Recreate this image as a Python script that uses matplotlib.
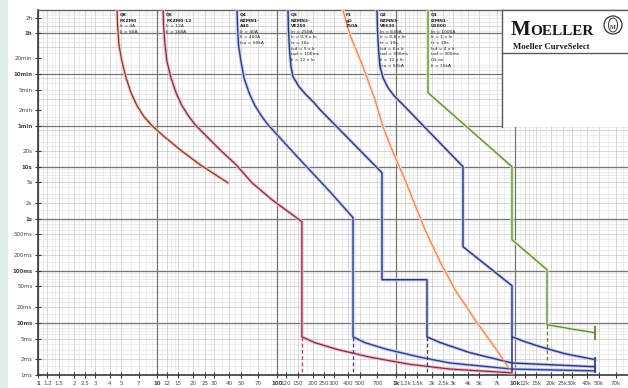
import matplotlib
matplotlib.use("Agg")
import matplotlib.pyplot as plt
import matplotlib.transforms as mtransforms
from matplotlib.lines import Line2D
from matplotlib.patches import Ellipse, Rectangle
from matplotlib.ticker import NullLocator

# axis ticks
X_TICKS = [1, 1.2, 1.5, 2, 2.5, 3, 4, 5, 7,
           10, 12, 15, 20, 25, 30, 40, 50, 70,
           100, 120, 150, 200, 250, 300, 400, 500, 700,
           1000, 1200, 1500, 2000, 2500, 3000, 4000, 5000, 7000,
           10000, 12000, 15000, 20000, 25000, 30000, 40000, 50000, 70000]
X_LABELS = ["1", "1.2", "1.5", "2", "2.5", "3", "4", "5", "7",
            "10", "12", "15", "20", "25", "30", "40", "50", "70",
            "100", "120", "150", "200", "250", "300", "400", "500", "700",
            "1k", "1.2k", "1.5k", "2k", "2.5k", "3k", "4k", "5k", "7k",
            "10k", "12k", "15k", "20k", "25k", "30k", "40k", "50k", "70k"]
Y_TICKS = [0.001, 0.002, 0.005, 0.01, 0.02, 0.05, 0.1, 0.2, 0.5, 1, 2, 5, 10, 20,
           60, 120, 300, 600, 1200, 3600, 7200]
Y_LABELS = ["1ms", "2ms", "5ms", "10ms", "20ms", "50ms", "100ms", "200ms", "500ms",
            "1s", "2s", "5s", "10s", "20s", "1min", "2min", "5min", "10min", "20min", "1h", "2h"]
BOLD_LABELS = {"1", "10", "100", "1k", "10k", "10ms", "100ms", "1s", "10s", "1min", "10min", "1h"}

# trip curves: current [A], time [s]
Q8_I = [4.6, 4.64, 4.77, 5.06, 5.47, 6.02, 6.76, 7.74, 9.03, 10.95, 15.5, 22.8, 39]
Q8_T = [10000, 5290, 2186, 1031, 508, 262, 147.5, 90.7, 61, 41, 21.1, 10.9, 4.9]

Q5_I = [11.2, 11.27, 11.6, 12.06, 13.02, 14.35, 16.1, 18.44, 21.1, 25.1, 33.5, 45.7, 62.2, 91.5, 163,
        163, 210, 321, 607, 1313, 2842, 9400]
Q5_T = [10000, 5290, 2186, 1031, 508, 262, 147.5, 90.7, 61, 41, 21.1, 10.9, 4.9, 2.31, 0.876,
        0.0054, 0.00417, 0.0031, 0.0022, 0.0016, 0.0013, 0.0011]

Q4_I = [46.6, 47.0, 47.9, 50.3, 53.3, 58.7, 65.9, 75.4, 84.7, 102.7, 157, 280, 437,
        437, 551, 842, 1592, 2842, 9400, 46670]
Q4_T = [10000, 5290, 2186, 1031, 508, 262, 147.5, 90.7, 63.7, 39.2, 13.6, 3.3, 1.05,
        0.0054, 0.00417, 0.0031, 0.0022, 0.0017, 0.0013, 0.0012]

Q3_I = [124.6, 125.8, 128.3, 132.0, 137.3, 154.1, 176.4, 205.8, 231, 764, 764, 1823, 1823,
        2343, 4178, 9400, 46670]
Q3_T = [10000, 4242, 1753, 827, 531, 342, 240, 168.4, 124, 7.64, 0.0675, 0.0675, 0.0054,
        0.0042, 0.00268, 0.0017, 0.00144]

F1_I = [360, 412, 530, 668, 780, 927, 1192, 1390, 1754, 2343, 3129, 4603, 6772, 9040]
F1_T = [10000, 3400, 827, 192, 58, 21, 5.6, 2.3, 0.615, 0.15, 0.0434, 0.0115, 0.00334, 0.00126]

Q2_I = [694, 701, 715, 736, 780, 859, 964, 1125, 3652, 3652, 9400, 9400, 12085, 16130, 26150, 46670]
Q2_T = [10000, 4242, 1753, 827, 508, 327, 229.5, 161, 9.96, 0.29, 0.0518, 0.0054, 0.00436, 0.0035,
        0.00256, 0.00197]

Q1_I = [1858, 1858, 9400, 9400, 18480, 18480, 28780, 46670]
Q1_T = [10000, 262, 9.96, 0.395, 0.105, 0.00923, 0.00774, 0.00648]

# instantaneous markers below the tails and end bars
DASH_I = [163, 437, 1823, 18480]
DASH_TOP = [0.0054, 0.0054, 0.0054, 0.00923]
DASH_BOT = [0.00116, 0.00116, 0.00116, 0.00197]
DASH_COL = ["#c04060", "#33408a", "#33408a", "#6f7f3a"]
SOLID_I = [9400]
SOLID_TOP = [0.0054]
SOLID_BOT = [0.00116]
END_I = 46670
END_TOP = [0.0089, 0.00225]
END_BOT = [0.0047, 0.00111]

CURVES = [
    ("Q8", Q8_I, Q8_T, "#7d3b36", "#f6c8b8", 0.9, ["Q8", "PKZM0"], ["Ir = 4A", "Ii = 56A"]),
    ("Q5", Q5_I, Q5_T, "#7c2f4a", "#f4b8c8", 0.9, ["Q5", "PKZM0-12"], ["Ir = 12A", "Ii = 168A"]),
    ("Q4", Q4_I, Q4_T, "#33408a", "#c4caf2", 1.0, ["Q4", "NZMN1-", "A40"],
     ["Ir = 40A", "Ii = 400A", "Icu = 50kA"]),
    ("Q3", Q3_I, Q3_T, "#2e3676", "#c4caf2", 1.0, ["Q3", "NZMN2-", "VE250"],
     ["In = 250A", "Ir = 0,9 x In", "tr = 10s", "Isd = 5 x Ir", "tsd = 100ms", "Ii = 12 x In"]),
    ("F1", F1_I, F1_T, "#f07c48", "#fde0cc", 0.8, ["F1", "gG", "250A"], []),
    ("Q2", Q2_I, Q2_T, "#2e3676", "#c4caf2", 1.0, ["Q2", "NZMN3-", "VE630"],
     ["In = 630A", "Ir = 0,8 x In", "tr = 10s", "Isd = 6 x Ir", "tsd = 300ms", "Ii = 12 x In", "Icu = 50kA"]),
    ("Q1", Q1_I, Q1_T, "#6f7f3a", "#d2f2c0", 0.9, ["Q1", "IZMN1-", "U1000"],
     ["In = 1000A", "Ir = 1 x In", "tr = 10s", "Isd = 4 x Ir", "tsd = 300ms", "I2t on", "Ii = 15kA"]),
]

W, H = 628, 388
fig = plt.figure(figsize=(W / 100, H / 100), dpi=100)
fig.patch.set_facecolor("white")
fig.add_artist(Rectangle((0, 0), 8 / W, 1, transform=fig.transFigure,
                         facecolor="#dfefe7", edgecolor="none", zorder=-1))

ax = fig.add_axes([38 / W, 13 / H, 596.5 / W, 364.7 / H])
ax.set_xscale("log")
ax.set_yscale("log")
ax.set_xlim(1, 1e5)
ax.set_ylim(1e-3, 1e4)

# grid
fine = [1.1, 1.3, 1.4, 1.6, 1.8, 2.2, 2.8, 3.5, 4.5, 6, 8, 9]
marked = [1.2, 1.5, 2, 2.5, 3, 4, 5, 7]
for e in range(5):
    for m in fine:
        ax.axvline(m * 10 ** e, color="#e2e2e2", lw=0.4, zorder=0)
    for m in marked:
        ax.axvline(m * 10 ** e, color="#c8c8c8", lw=0.5, zorder=0)
    ax.axvline(10 ** e, color="#747474", lw=0.9, zorder=1)
for e in range(-3, 4):
    for m in [1.5, 2.5, 3, 4, 6, 7, 8, 9]:
        ax.axhline(m * 10 ** e, color="#dedede", lw=0.4, zorder=0)
    for m in [2, 5]:
        ax.axhline(m * 10 ** e, color="#c8c8c8", lw=0.5, zorder=0)
for t in [1e-3, 1e-2, 0.1, 1, 10, 60, 600, 3600]:
    ax.axhline(t, color="#747474", lw=0.9, zorder=1)

# curves
for name, cur, tim, col, glow, lw, head, body in CURVES:
    ax.plot(cur, tim, color=glow, lw=2.4, zorder=3, solid_joinstyle="round")
    ax.plot(cur, tim, color=col, lw=lw, zorder=4, solid_joinstyle="round")

ax.vlines(DASH_I, DASH_BOT, DASH_TOP, colors=DASH_COL, linestyles=(0, (3, 2)), lw=0.9, zorder=4)
ax.vlines(SOLID_I, SOLID_BOT, SOLID_TOP, colors="#33408a", lw=1.2, zorder=4)
ax.vlines([END_I, END_I], END_BOT, END_TOP, colors=["#6f7f3a", "#33408a"], lw=1.3, zorder=4)

# curve labels at the top
trans = mtransforms.blended_transform_factory(ax.transData, ax.transAxes)
for name, cur, tim, col, glow, lw, head, body in CURVES:
    xs = cur[0] * 1.06
    for i, line in enumerate(head + body):
        ax.text(xs, 0.993 - i * 0.0155, line, transform=trans, fontsize=3.2,
                fontweight="bold" if i < len(head) else "normal",
                color="#222222", va="top", ha="left", zorder=5)

# ticks
ax.set_xticks(X_TICKS, X_LABELS)
ax.set_yticks(Y_TICKS, Y_LABELS)
ax.xaxis.set_minor_locator(NullLocator())
ax.yaxis.set_minor_locator(NullLocator())
ax.tick_params(axis="both", which="major", direction="inout", length=5, width=0.8,
               color="#3a3a3a", labelsize=4, labelcolor="#444444", pad=1.5)
for lbl in ax.get_xticklabels() + ax.get_yticklabels():
    if lbl.get_text() in BOLD_LABELS:
        lbl.set_fontweight("bold")
for side in ["left", "bottom"]:
    ax.spines[side].set_color("#3a3a3a")
    ax.spines[side].set_linewidth(1.2)
ax.spines["top"].set_color("#606060")
ax.spines["top"].set_linewidth(1.0)
ax.spines["right"].set_visible(False)


# Moeller box in the top right corner
def fx(px):
    return px / W


def fy(py):
    return 1 - py / H


fig.add_artist(Rectangle((fx(502), fy(127)), fx(628) - fx(502), fy(10.5) - fy(127),
                         transform=fig.transFigure, facecolor="white", edgecolor="none", zorder=10))
fig.add_artist(Line2D([fx(502), fx(502)], [fy(127), fy(10)], transform=fig.transFigure,
                      color="#5a5a5a", lw=1.0, zorder=11))
fig.add_artist(Line2D([fx(502), fx(628)], [fy(53), fy(53)], transform=fig.transFigure,
                      color="#5a5a5a", lw=1.0, zorder=11))
fig.add_artist(Line2D([fx(502), fx(628)], [fy(10.3), fy(10.3)], transform=fig.transFigure,
                      color="#606060", lw=1.0, zorder=11))
fig.text(fx(511), fy(35), "M", fontsize=15, family="Liberation Serif", fontweight="bold",
         color="#1a1a1a", va="baseline", ha="left", zorder=12)
fig.text(fx(530), fy(35), "OELLER", fontsize=11, family="Liberation Serif", fontweight="bold",
         color="#1a1a1a", va="baseline", ha="left", zorder=12)
fig.text(fx(513), fy(49), "Moeller CurveSelect", fontsize=6.3, family="Liberation Serif",
         fontweight="bold", color="#1a1a1a", va="baseline", ha="left", zorder=12)
fig.add_artist(Ellipse((fx(613), fy(25)), 18 / W, 18 / H, transform=fig.transFigure,
                       facecolor="white", edgecolor="#333333", lw=0.9, zorder=12))
fig.add_artist(Ellipse((fx(613), fy(25)), 9 / W, 14 / H, transform=fig.transFigure,
                       facecolor="none", edgecolor="#333333", lw=0.7, zorder=12))
fig.text(fx(613), fy(27.5), "M", fontsize=4.5, family="Liberation Serif", fontweight="bold",
         color="#333333", va="center", ha="center", zorder=13)

fig.savefig("out.png", dpi=100)
